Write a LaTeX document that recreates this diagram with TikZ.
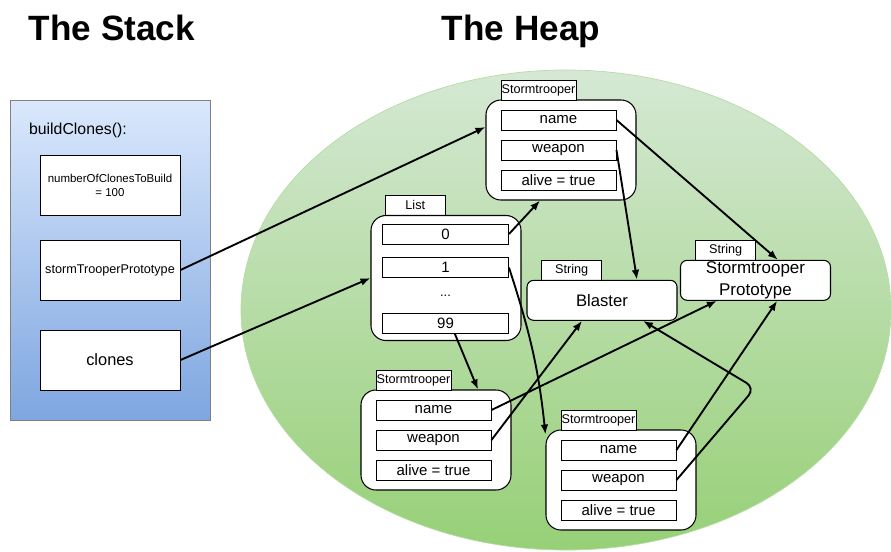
\documentclass[tikz,border=0pt]{standalone}
\usepackage{fontspec}
\setmainfont{Liberation Sans}
\usetikzlibrary{arrows.meta}

\definecolor{stacktop}{HTML}{DAE8FC}
\definecolor{stackbot}{HTML}{7EA6E0}
\definecolor{heaptop}{HTML}{D5E8D4}
\definecolor{heapbot}{HTML}{97D077}

\tikzset{
	obj/.style={draw, fill=white, rounded corners=0.45cm, line width=0.9pt,
		minimum width=4.5cm, minimum height=3cm, inner sep=0pt},
	tab/.style={draw, fill=white, line width=0.8pt, minimum height=0.6cm,
		inner sep=0pt, font=\fontsize{10.8}{13}\selectfont},
	field/.style={draw, fill=white, line width=0.8pt, minimum width=3.45cm,
		minimum height=0.6cm, inner sep=0pt, font=\fontsize{12.8}{15}\selectfont},
	var/.style={draw, fill=white, line width=0.8pt, minimum width=4.2cm,
		minimum height=1.8cm, inner sep=0pt, align=center},
	ref/.style={-{Latex[length=8.5pt,width=6.5pt]}, line width=1.6pt},
	title/.style={font=\fontsize{30}{36}\selectfont\bfseries, anchor=base}
}

% one Stormtrooper object, #2/#3 = top left corner of its box
\newcommand{\trooper}[3]{%
	\node[obj] (#1) at (#2+75,#3+50) {};
	\node[tab, minimum width=2.25cm] (#1-tab) at (#2+52.5,#3-10) {Stormtrooper};
	\node[field] (#1-name) at (#2+72.5,#3+20) {name};
	\node[field] (#1-weapon) at (#2+72.5,#3+50) {weapon};
	\node[field] (#1-alive) at (#2+72.5,#3+80) {alive = true};
}

\begin{document}
\begin{tikzpicture}[x=0.03cm,y=-0.03cm]
	\useasboundingbox (0,0) rectangle (891,551);

	% titles
	\node[title] (stack) at (112,40) {The Stack};
	\node[title] (heap) at (521,40) {The Heap};

	% draw the heap
	\draw[draw=heaptop!50!heapbot, line width=0.6pt, top color=heaptop, bottom color=heapbot]
		(566,310) ellipse [x radius=9.75cm, y radius=7.2cm];

	% draw the stack frame
	\draw[draw=gray, line width=0.7pt, top color=stacktop, bottom color=stackbot]
		(10,100) rectangle (210,420);
	\node[anchor=west, font=\fontsize{13.5}{16}\selectfont] (frame) at (25,130) {buildClones():};
	\node[var, font=\fontsize{9.8}{12}\selectfont] (count) at (110,185) {numberOfClonesToBuild\\= 100};
	\node[var, font=\fontsize{10.8}{13}\selectfont] (protoref) at (110,270) {stormTrooperPrototype};
	\node[var, font=\fontsize{14}{17}\selectfont] (clones) at (110,360) {clones};

	% the list
	\node[tab, minimum width=1.8cm] (list-tab) at (415.3,205) {List};
	\node[obj, minimum height=3.75cm] (list) at (446,278) {};
	\node[field, minimum width=3.78cm] (i0) at (445.5,234) {0};
	\node[field, minimum width=3.78cm] (i1) at (445.5,267.5) {1};
	\node[font=\fontsize{11}{13}\selectfont] (dots) at (445.5,296) {...};
	\node[field, minimum width=3.78cm] (i99) at (445.5,323.3) {99};

	% the strings
	\node[tab, minimum width=1.8cm] (blaster-tab) at (571.7,270.7) {String};
	\node[obj, minimum height=1.2cm, rounded corners=0.2cm,
		font=\fontsize{14.2}{17}\selectfont] (blaster) at (602,300.3) {Blaster};
	\node[tab, minimum width=1.8cm] (protostr-tab) at (725.7,250.7) {String};
	\node[obj, minimum height=1.2cm, rounded corners=0.2cm, align=center,
		font=\fontsize{14.5}{18.5}\selectfont] (protostr) at (755.5,280.3) {Stormtrooper\\Prototype};

	% the stormtroopers
	\trooper{st1}{486}{100}
	\trooper{st2}{361}{390}
	\trooper{st3}{546}{430}

	% references
	\draw[ref] (protoref.east) -- ([yshift=0.69cm]st1.west);
	\draw[ref] (clones.east) -- (list.west);
	\draw[ref] (i0.east) -- ([xshift=-0.63cm]st1.south);
	\draw[ref] (i1.east) to[out=-72,in=96] ([yshift=-0.15cm]st3.north west);
	\draw[ref] ([xshift=0.28cm]i99.south) -- ([xshift=1.26cm]st2.north);
	\draw[ref] (st1-name.east) -- ([xshift=0.67cm]protostr.north);
	\draw[ref] (st1-weapon.east) -- ([xshift=1.05cm]blaster.north);
	\draw[ref] (st2-name.east) -- ([xshift=-1.16cm]protostr.south);
	\draw[ref] (st2-weapon.east) -- ([xshift=-0.6cm]blaster.south);
	\draw[ref] (st3-name.east) -- ([xshift=0.65cm]protostr.south);
	\coordinate (kink) at (755,388);
	\draw[ref, rounded corners=0.3cm] (st3-weapon.east) -- (kink) -- ([xshift=1.23cm]blaster.south);
\end{tikzpicture}
\end{document}
